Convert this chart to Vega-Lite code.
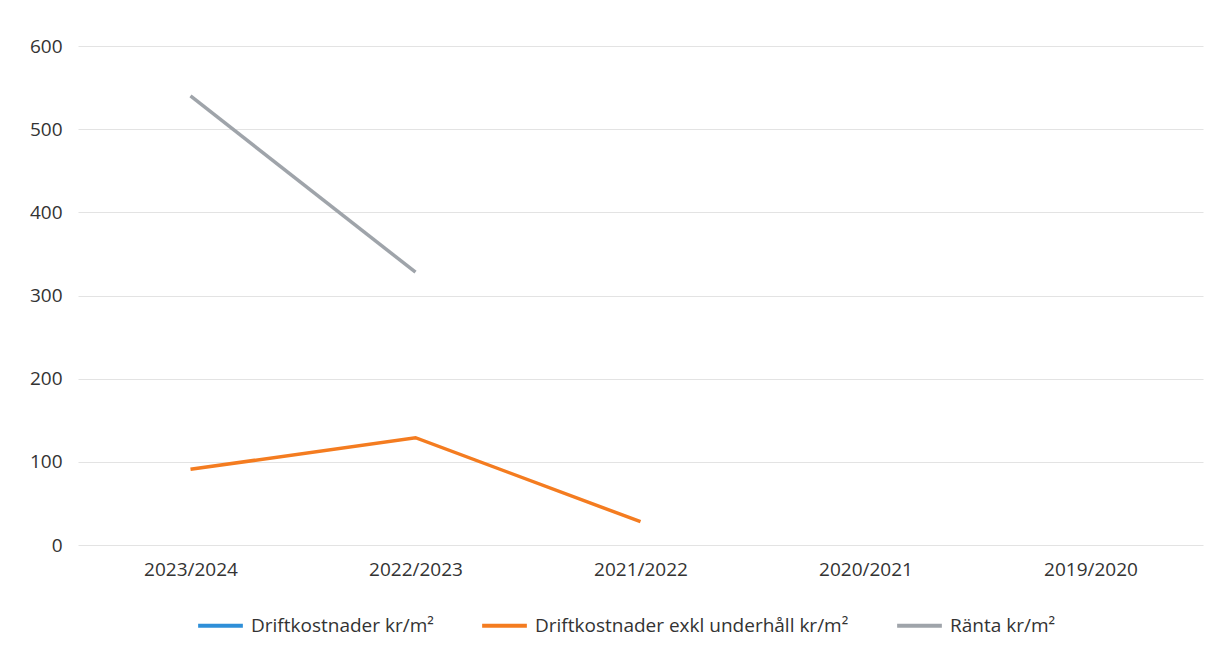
{
  "$schema": "https://vega.github.io/schema/vega-lite/v6.json",
  "width": 1125,
  "height": 499,
  "autosize": {"type": "none"},
  "padding": {"left": 78, "top": 46, "right": 12, "bottom": 109},
  "background": "white",
  "config": {
    "view": {"stroke": null},
    "font": "Open Sans",
    "axis": {"labelFont": "Open Sans", "labelColor": "#333333", "labelFontSize": 19},
    "legend": {"labelFont": "Open Sans"}
  },
  "data": {
    "values": [
      {"year": "2023/2024", "series": "Driftkostnader exkl underhåll kr/m²", "value": 91},
      {"year": "2022/2023", "series": "Driftkostnader exkl underhåll kr/m²", "value": 129},
      {"year": "2021/2022", "series": "Driftkostnader exkl underhåll kr/m²", "value": 28},
      {"year": "2023/2024", "series": "Ränta kr/m²", "value": 540},
      {"year": "2022/2023", "series": "Ränta kr/m²", "value": 328}
    ]
  },
  "mark": {"type": "line", "strokeWidth": 3.5},
  "encoding": {
    "x": {
      "field": "year",
      "type": "nominal",
      "sort": ["2023/2024", "2022/2023", "2021/2022", "2020/2021", "2019/2020"],
      "scale": {"domain": ["2023/2024", "2022/2023", "2021/2022", "2020/2021", "2019/2020"], "padding": 0.5},
      "axis": {"title": null, "labelAngle": 0, "ticks": false, "domain": false, "grid": false, "labelPadding": 15}
    },
    "y": {
      "field": "value",
      "type": "quantitative",
      "scale": {"domain": [0, 600]},
      "axis": {"title": null, "values": [0, 100, 200, 300, 400, 500, 600], "ticks": false, "domain": false, "gridColor": "#e3e3e3", "gridWidth": 1, "labelPadding": 16}
    },
    "color": {
      "field": "series",
      "type": "nominal",
      "scale": {
        "domain": ["Driftkostnader kr/m²", "Driftkostnader exkl underhåll kr/m²", "Ränta kr/m²"],
        "range": ["#2E8FD8", "#F47C20", "#9FA4AA"]
      },
      "legend": {
        "title": null,
        "orient": "none",
        "direction": "horizontal",
        "legendX": 118,
        "legendY": 555,
        "symbolType": "stroke",
        "symbolSize": 2000,
        "symbolStrokeWidth": 4,
        "labelFontSize": 19,
        "labelLimit": 0,
        "labelColor": "#333333",
        "columnPadding": 40,
        "labelOffset": 6
      }
    }
  }
}
